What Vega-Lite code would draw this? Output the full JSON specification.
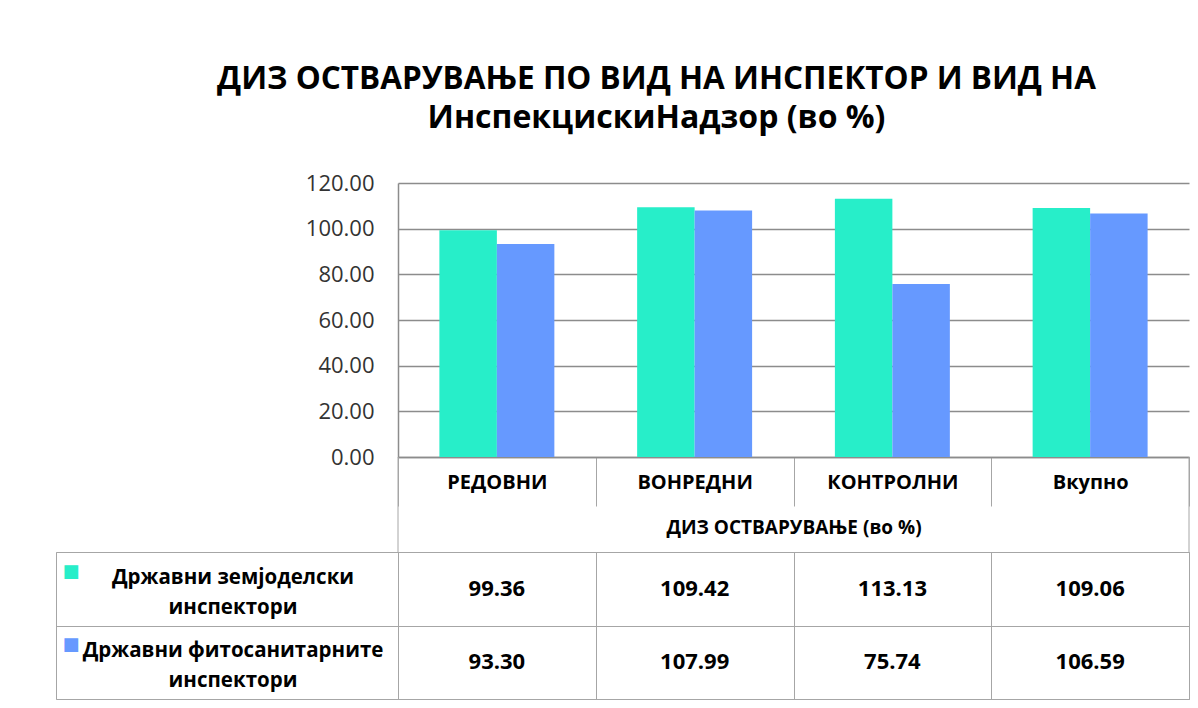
{
  "$schema": "https://vega.github.io/schema/vega-lite/v6.json",
  "background": "white",
  "padding": {"left": 55, "right": 10, "top": 63, "bottom": 6},
  "config": {
    "font": "Open Sans",
    "view": {"stroke": null},
    "axis": {"minExtent": 0}
  },
  "title": {
    "text": "ДИЗ ОСТВАРУВАЊЕ ПО ВИД НА ИНСПЕКТОР И ВИД НА",
    "subtitle": "ИнспекцискиНадзор  (во %)",
    "font": "Open Sans",
    "fontSize": 31.5,
    "fontWeight": "bold",
    "color": "black",
    "subtitleFont": "Open Sans",
    "subtitleFontSize": 32,
    "subtitleFontWeight": "bold",
    "subtitleColor": "black",
    "subtitlePadding": 8,
    "anchor": "middle",
    "dx": 34,
    "offset": 38
  },
  "datasets": {
    "vals": [
      {"cat": "РЕДОВНИ", "series": "Државни земјоделски инспектори", "value": 99.36},
      {"cat": "РЕДОВНИ", "series": "Државни фитосанитарните инспектори", "value": 93.30},
      {"cat": "ВОНРЕДНИ", "series": "Државни земјоделски инспектори", "value": 109.42},
      {"cat": "ВОНРЕДНИ", "series": "Државни фитосанитарните инспектори", "value": 107.99},
      {"cat": "КОНТРОЛНИ", "series": "Државни земјоделски инспектори", "value": 113.13},
      {"cat": "КОНТРОЛНИ", "series": "Државни фитосанитарните инспектори", "value": 75.74},
      {"cat": "Вкупно", "series": "Државни земјоделски инспектори", "value": 109.06},
      {"cat": "Вкупно", "series": "Државни фитосанитарните инспектори", "value": 106.59}
    ],
    "rows": [
      {"series": "Државни земјоделски инспектори", "label": "Државни земјоделски\nинспектори"},
      {"series": "Државни фитосанитарните инспектори", "label": "Државни фитосанитарните\nинспектори"}
    ]
  },
  "columns": 2,
  "bounds": "flush",
  "spacing": {"row": 95, "column": 0},
  "concat": [
    {
      "width": 342,
      "height": 274,
      "data": {"values": []},
      "mark": "point"
    },
    {
      "width": 791,
      "height": 274,
      "data": {"name": "vals"},
      "layer": [
        {
          "mark": {"type": "bar"},
          "encoding": {
            "x": {
              "field": "cat", "type": "nominal", "sort": null,
              "scale": {"paddingInner": 0, "paddingOuter": 0},
              "axis": {
                "title": "ДИЗ ОСТВАРУВАЊЕ (во %)",
                "titleFontSize": 19, "titleFontWeight": "bold", "titleColor": "black", "titlePadding": 12,
                "labelAngle": 0, "labelFontSize": 20, "labelFontWeight": "bold", "labelColor": "black",
                "labelBaseline": "middle", "labelPadding": -24,
                "tickBand": "extent", "ticks": true, "tickSize": 49, "tickColor": "#a6a6a6", "tickWidth": 1,
                "domain": true, "domainColor": "#8c8c8c", "domainWidth": 1.5, "grid": false
              }
            },
            "xOffset": {"field": "series", "type": "nominal", "sort": null, "scale": {"paddingInner": 0, "paddingOuter": 0.72}},
            "y": {
              "field": "value", "type": "quantitative",
              "scale": {"domain": [0, 120], "nice": false},
              "axis": {
                "values": [0, 20, 40, 60, 80, 100, 120], "format": ".2f", "title": null,
                "labelFontSize": 22, "labelColor": "#333333", "labelPadding": 24,
                "ticks": false, "domain": true, "domainColor": "#8c8c8c", "domainWidth": 1.5,
                "grid": true, "gridColor": "#8c8c8c", "gridWidth": 1.5
              }
            },
            "color": {
              "field": "series", "type": "nominal", "sort": null,
              "scale": {"domain": ["Државни земјоделски инспектори", "Државни фитосанитарните инспектори"], "range": ["#27EEC9", "#6699FF"]},
              "legend": null
            }
          }
        },
        {
          "data": {"values": [{}]},
          "mark": {"type": "rule", "color": "#a6a6a6", "strokeWidth": 1},
          "encoding": {
            "x": {"datum": "РЕДОВНИ", "type": "nominal", "bandPosition": 0},
            "y": {"datum": 0, "type": "quantitative"},
            "y2": {"datum": -41.6}
          }
        },
        {
          "data": {"values": [{}]},
          "mark": {"type": "rule", "color": "#a6a6a6", "strokeWidth": 1},
          "encoding": {
            "x": {"datum": "Вкупно", "type": "nominal", "bandPosition": 1},
            "y": {"datum": 0, "type": "quantitative"},
            "y2": {"datum": -41.6}
          }
        }
      ]
    },
    {
      "width": 342,
      "height": 147,
      "data": {"name": "rows"},
      "view": {"stroke": "#a6a6a6", "strokeWidth": 1},
      "encoding": {
        "y": {
          "field": "series", "type": "nominal", "sort": null,
          "scale": {"paddingInner": 0, "paddingOuter": 0},
          "axis": {"labels": false, "ticks": true, "tickBand": "extent", "tickSize": -342, "tickColor": "#a6a6a6", "tickWidth": 1, "domain": false, "title": null, "grid": false, "minExtent": 0, "maxExtent": 0}
        }
      },
      "layer": [
        {
          "mark": {"type": "text", "lineBreak": "\n", "fontSize": 20.5, "fontWeight": "bold", "lineHeight": 30, "align": "center", "baseline": "middle", "color": "black", "dx": 6, "dy": -11},
          "encoding": {"text": {"field": "label"}}
        },
        {
          "mark": {"type": "text", "text": "■", "font": "DejaVu Sans", "fontSize": 18, "dx": -156, "dy": -17, "baseline": "middle"},
          "encoding": {
            "color": {
              "field": "series", "type": "nominal", "sort": null,
              "scale": {"domain": ["Државни земјоделски инспектори", "Државни фитосанитарните инспектори"], "range": ["#27EEC9", "#6699FF"]},
              "legend": null
            }
          }
        }
      ]
    },
    {
      "width": 791,
      "height": 147,
      "data": {"name": "vals"},
      "view": {"stroke": "#a6a6a6", "strokeWidth": 1},
      "mark": {"type": "text", "fontSize": 22, "fontWeight": "bold", "color": "black"},
      "encoding": {
        "x": {
          "field": "cat", "type": "nominal", "sort": null,
          "scale": {"paddingInner": 0, "paddingOuter": 0},
          "axis": {"labels": false, "ticks": true, "tickBand": "extent", "tickSize": -147, "tickColor": "#a6a6a6", "tickWidth": 1, "domain": false, "title": null, "grid": false, "minExtent": 0, "maxExtent": 0}
        },
        "y": {
          "field": "series", "type": "nominal", "sort": null,
          "scale": {"paddingInner": 0, "paddingOuter": 0},
          "axis": {"labels": false, "ticks": true, "tickBand": "extent", "tickSize": -791, "tickColor": "#a6a6a6", "tickWidth": 1, "domain": false, "title": null, "grid": false, "minExtent": 0, "maxExtent": 0}
        },
        "text": {"field": "value", "type": "quantitative", "format": ".2f"}
      }
    }
  ]
}
